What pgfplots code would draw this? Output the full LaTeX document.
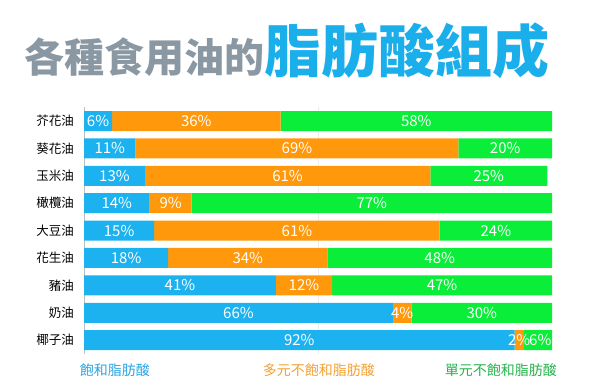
\documentclass[border=0pt]{standalone}
\usepackage{pgfplots}
\pgfplotsset{compat=1.18}
\usepackage{fontspec}
\setmainfont{Noto Sans CJK TC}
\definecolor{cblue}{HTML}{1CB2F0}
\definecolor{corange}{HTML}{FF980A}
\definecolor{cgreen}{HTML}{0AEE3A}
\definecolor{tgray}{HTML}{8A98A3}
\definecolor{tblue}{HTML}{1AAEEA}
\definecolor{lblue}{HTML}{2AA4E2}
\definecolor{lorange}{HTML}{F4A030}
\definecolor{lgreen}{HTML}{24B44A}
\begin{document}
\begin{tikzpicture}[x=1pt,y=1pt]
\path[use as bounding box] (0,0) rectangle (600,-383);
\node[anchor=base west, inner sep=0pt] at (24,-72) {\bfseries{\color{tgray}\fontsize{40}{40}\selectfont 各種食用油的}{\color{tblue}\fontsize{57}{57}\selectfont 脂肪酸組成}};
\begin{axis}[
  at={(84pt,-107.3pt)}, anchor=north west,
  width=468pt, height=246.6pt, scale only axis,
  xbar stacked, bar width=20pt,
  xmin=0, xmax=100, ymin=-0.5, ymax=8.5, y dir=reverse,
  ytick={0,...,8},
  yticklabels={芥花油,葵花油,玉米油,橄欖油,大豆油,花生油,豬油,奶油,椰子油},
  yticklabel style={font=\fontsize{12.5}{13}\selectfont, inner sep=0pt, xshift=-10pt},
  xtick={50}, xticklabels={}, xmajorgrids, grid style={black!8},
  major tick length=0pt,
  axis y line*=left, y axis line style={black!25,-},
  x axis line style={draw=none},
]
\addplot[fill=cblue, draw=none] coordinates {(6,0) (11,1) (13,2) (14,3) (15,4) (18,5) (41,6) (66,7) (92,8)};
\addplot[fill=corange, draw=none] coordinates {(36,0) (69,1) (61,2) (9,3) (61,4) (34,5) (12,6) (4,7) (2,8)};
\addplot[fill=cgreen, draw=none] coordinates {(58,0) (20,1) (25,2) (77,3) (24,4) (48,5) (47,6) (30,7) (6,8)};
\end{axis}
\begin{axis}[
  at={(84pt,-107.3pt)}, anchor=north west,
  width=468pt, height=246.6pt, scale only axis,
  xmin=0, xmax=100, ymin=-0.5, ymax=8.5, y dir=reverse,
  hide axis, clip=false,
  /pgf/number format/assume math mode=true,
]
\addplot[draw=none, mark=none, point meta=\thisrow{v},
  nodes near coords={\pgfmathprintnumber[assume math mode=true]{\pgfplotspointmeta}\%},
  every node near coord/.append style={anchor=center, white, inner sep=0pt, font=\fontsize{15}{16}\selectfont}]
  table {
x y v
3 0 6
24 0 36
71 0 58
5.5 1 11
45.5 1 69
90 1 20
6.5 2 13
43.5 2 61
86.5 2 25
7 3 14
18.5 3 9
61.5 3 77
7.5 4 15
45.5 4 61
88 4 24
9 5 18
35 5 34
76 5 48
20.5 6 41
47 6 12
76.5 6 47
33 7 66
68 7 4
85 7 30
46 8 92
93 8 2
97.5 8 6
};
\node[lblue, font=\fontsize{14}{14}\selectfont] at (axis cs:6.6,9.1) {飽和脂肪酸};
\node[lorange, font=\fontsize{14}{14}\selectfont] at (axis cs:50.2,9.1) {多元不飽和脂肪酸};
\node[lgreen, font=\fontsize{14}{14}\selectfont] at (axis cs:89.1,9.1) {單元不飽和脂肪酸};
\end{axis}
\end{tikzpicture}
\end{document}
